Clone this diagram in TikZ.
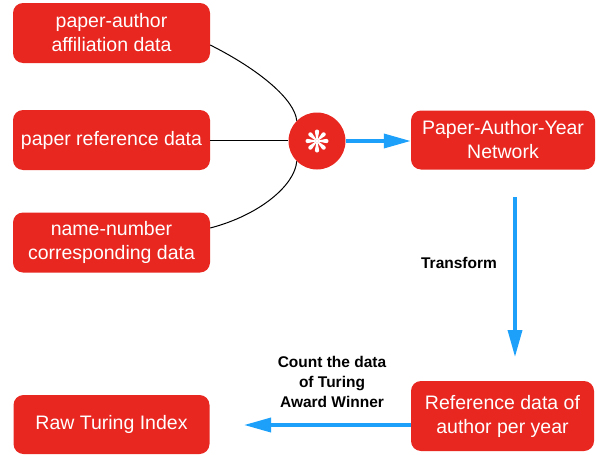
\documentclass[tikz,border=0pt]{standalone}
\usepackage{fontspec}
\setmainfont{Liberation Sans}
\usetikzlibrary{arrows.meta}
\definecolor{boxred}{RGB}{232,39,33}
\definecolor{flowblue}{RGB}{28,160,250}
\begin{document}
\begin{tikzpicture}[x=1pt,y=-1pt,
  databox/.style={fill=boxred,rounded corners=10pt,text=white,align=center,
    font=\fontsize{19.5}{24}\selectfont,inner sep=0pt},
  flow/.style={draw=flowblue,line width=3.5pt,-{Triangle[length=27pt,width=14pt]}},
  link/.style={draw=black,line width=1pt},
  note/.style={align=center,font=\fontsize{15.5}{20}\selectfont\bfseries}]
\useasboundingbox (0,0) rectangle (597,455);
% source data boxes
\node[databox,minimum width=197pt,minimum height=60pt] (aff) at (111.5,33) {paper-author\\affiliation data};
\node[databox,minimum width=197pt,minimum height=60pt] (ref) at (111.5,140) {paper reference data};
\node[databox,minimum width=197pt,minimum height=60pt] (num) at (111.5,242.5) {name-number\\corresponding data};
% merge point with a teardrop-spoked asterisk
\node[circle,fill=boxred,minimum size=57pt,inner sep=0pt] (join) at (317,141) {};
\begin{scope}[shift={(join.center)},x=1pt,y=1pt]
  \foreach \a in {0,45,...,315}
    \fill[white,rotate=\a] (-0.4,0) -- (-2.1,9.4) arc[start angle=180,end angle=0,radius=2.1] -- (0.4,0) -- cycle;
  \fill[white] (0,0) circle[radius=1.3];
\end{scope}
% derived data
\node[databox,minimum width=184pt,minimum height=59pt] (net) at (503,140) {Paper-Author-Year\\Network};
\node[databox,minimum width=183pt,minimum height=70pt] (peryear) at (502.5,416) {Reference data of\\author per year};
\node[databox,minimum width=196pt,minimum height=59pt] (raw) at (111.5,424.5) {Raw Turing Index};
% connectors into the merge point
\draw[link] (aff.east|-0,45) .. controls (260,70) and (295,100) .. (join.north west);
\draw[link] (ref.east) -- (ref.east-|join.west);
\draw[link] (num.east|-0,228) .. controls (260,215) and (295,185) .. (join.south west);
% flow arrows
\coordinate (vtop) at (515,197);
\coordinate (vbot) at (515,357);
\draw[flow] (join.east) -- (join.east-|net.west);
\draw[flow] (vtop) -- (vbot);
\draw[flow] (peryear.west|-0,425) -- (244,425);
% labels
\node[note] (tr) at (459,263) {Transform};
\node[note] (cnt) at (332,382) {Count the data\\of Turing\\Award Winner};
\end{tikzpicture}
\end{document}
